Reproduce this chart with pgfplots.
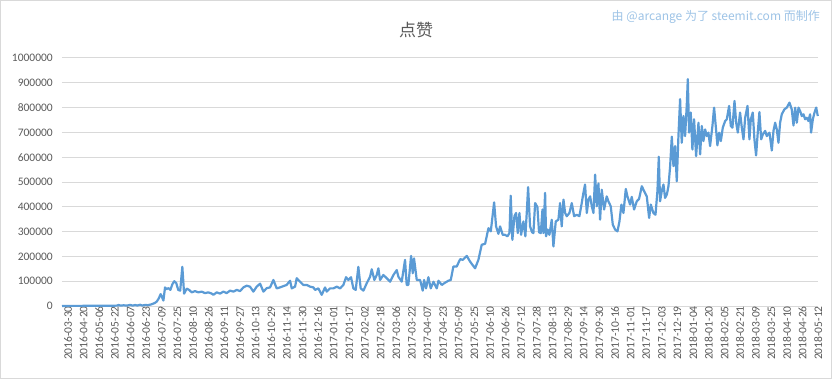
\documentclass[border=0pt]{standalone}
\usepackage{pgfplots}
\pgfplotsset{compat=1.18}
\usepackage{fontspec}
\setmainfont{Carlito}
\newfontfamily\cjk{Noto Sans CJK SC}
\definecolor{lineblue}{HTML}{5B9BD5}
\definecolor{txtgray}{HTML}{595959}
\definecolor{gridgray}{HTML}{D9D9D9}
\definecolor{notecol}{HTML}{9DC3E6}
\begin{document}
\begin{tikzpicture}[x=1bp,y=1bp]
\useasboundingbox (-62,-73) rectangle (770,306);
\draw[draw=gridgray, line width=1bp] (-61.5,-72.5) rectangle (769.5,305.5);
\begin{axis}[
  at={(0,0)}, anchor=south west,
  scale only axis, width=756bp, height=248bp,
  xmin=0, xmax=774, ymin=0, ymax=1000000,
  axis x line*=bottom, axis y line*=left,
  x axis line style={-, draw=gridgray, line width=1bp},
  y axis line style={draw=none},
  major tick length=0pt,
  ymajorgrids, grid style={draw=gridgray, line width=1bp},
  ytick={0,100000,200000,300000,400000,500000,600000,700000,800000,900000,1000000},
  scaled y ticks=false,
  /pgf/number format/.cd, fixed, set thousands separator={}, assume math mode=true,
  /pgfplots/.cd,
  yticklabel style={font=\fontsize{11.5bp}{13bp}\selectfont, text=txtgray, anchor=east, inner sep=0pt, xshift=-9bp},
  xtick={0,16,...,768},
  xticklabels={2016-03-30,2016-04-20,2016-05-06,2016-05-22,2016-06-07,2016-06-23,2016-07-09,2016-07-25,2016-08-10,2016-08-26,2016-09-11,2016-09-27,2016-10-13,2016-10-29,2016-11-14,2016-11-30,2016-12-16,2017-01-01,2017-01-17,2017-02-02,2017-02-18,2017-03-06,2017-03-22,2017-04-07,2017-04-23,2017-05-09,2017-05-25,2017-06-10,2017-06-26,2017-07-12,2017-07-28,2017-08-13,2017-08-29,2017-09-14,2017-09-30,2017-10-16,2017-11-01,2017-11-17,2017-12-03,2017-12-19,2018-01-04,2018-01-20,2018-02-05,2018-02-21,2018-03-09,2018-03-25,2018-04-10,2018-04-26,2018-05-12},
  xticklabel style={font=\fontsize{11.5bp}{13bp}\selectfont, text=txtgray, rotate=90, anchor=east, inner sep=0pt, yshift=-6bp},
  clip=false,
]
\addplot[lineblue, line width=2.2bp, line join=round] coordinates {
(0,300)(10,500)(20,600)(30,800)(40,1000)(50,1200)(56,1500)(58,4000)(60,1500)(63,3000)(66,1500)(70,4500)(72,1500)(75,4000)(77,2000)(80,5000)(82,2000)(85,4000)(88,3500)(91,6000)(93,9000)(95,12000)(97,18000)(99,30000)(101,48000)(102,40000)(103.8,22000)(105.5,75000)(107,68000)(109,72000)(111,65000)(113,88000)(115,100000)(117,92000)(119,65000)(121,62000)(123.2,158000)(125,50000)
(127.7,70000)(130.1,65000)(132.8,55000)(136.2,60000)(139.6,55000)(143,58000)(146.4,52000)(149.9,55000)(153.3,50000)(155,45000)(158.4,55000)(161.8,50000)(165.2,58000)(168.6,52000)(172,62000)(175.5,58000)(178.9,65000)(182.3,60000)(185.7,75000)(189.1,82000)(192.5,78000)(195.9,58000)(199.3,78000)(202.8,90000)(206.2,58000)(209.6,72000)(213,75000)(216.4,105000)(219.8,71000)(223.2,75000)(226.6,80000)(230,85000)(233.5,102000)(235.2,71000)(238.6,78000)(240.3,112000)(243.7,98000)(247.1,85000)(250.5,85000)(254,78000)(257.4,75000)(259.1,65000)(262.5,71000)(265.9,45000)(269.3,75000)(271,58000)(274.4,71000)(277.8,71000)(281.3,78000)(284.7,71000)(288.1,85000)(290.8,116000)(293.2,105000)(295.9,116000)(298.3,71000)(300.7,65000)(303.4,158000)(305.8,71000)(308.6,62000)(312,92000)(315.4,118000)(317.1,148000)(319.8,105000)(322.2,125000)(323.9,152000)(325.6,105000)(329,125000)(332.5,112000)(335.9,98000)(339.3,125000)(342.7,145000)(344.4,118000)(347.8,98000)(351.2,186000)(352.9,85000)(354.6,85000)(357.4,202000)(359.1,132000)(360.4,192000)(363.2,105000)(366.6,105000)(369.3,62000)
(370.7,105000)(372.7,71000)(375.1,116000)(377.5,71000)(380.3,98000)(383.7,71000)(385.4,102000)(388.8,85000)(392.2,94000)(395.6,102000)(398,105000)(400.7,159000)(404.1,159000)(407.6,189000)(410.3,186000)(414.4,202000)(417.8,179000)(422.9,152000)(426.3,186000)(429.7,247000)(433.2,251000)(436.6,314000)(439,301000)(442.4,418000)(444.4,321000)(446.8,291000)(448.5,321000)(451.2,287000)(453.6,287000)(456,281000)(458.1,294000)(459.4,445000)(461.1,267000)(463.2,362000)(464.9,375000)(466.6,294000)(468.3,375000)(470,287000)(472.4,341000)(474.4,281000)(475.8,375000)(477.2,479000)(479.2,321000)(481.3,297000)(482.6,294000)(484.4,415000)(486.7,399000)(488.4,297000)(490.2,294000)(491.9,389000)(492.9,294000)(494.6,456000)(495.6,281000)(497.3,308000)(499,287000)(501.4,348000)(503.1,240000)(505.5,341000)(508.2,348000)(509.9,415000)(511.6,321000)(513.4,429000)(515.1,375000)(516.8,362000)(519.5,375000)(521.9,415000)(524.3,362000)(527,368000)(529.7,362000)(532.1,415000)(533.8,456000)(535.5,490000)(537.3,375000)(539,429000)(540.7,442000)(542.4,402000)(544.1,375000)(545.8,530000)(547.5,402000)(549.2,494000)(550.9,348000)(552.6,469000)(555,389000)(557.7,442000)(559.4,422000)(561.8,402000)(563.9,328000)(566.3,308000)(568.7,301000)(570.7,341000)(572.7,409000)(574.8,375000)(577.2,472000)(578.9,442000)(581.6,409000)(583.3,440000)(585.7,389000)(588.4,422000)(590.8,432000)(593.6,483000)(596,463000)(598.7,442000)(601.1,355000)(602.8,409000)(605.5,375000)(607.6,368000)(609.6,463000)(611,602000)(612.3,422000)(614,463000)(615.8,490000)(617.4,436000)(619.2,449000)(620.9,483000)(622.6,564000)(624.3,683000)(626,564000)(627.7,645000)(629.4,503000)(631.1,685000)(632.8,834000)(634.5,658000)(636.2,766000)(637.9,685000)(639.6,807000)(640.7,915000)(642,699000)(643.7,780000)(645.4,631000)(647.1,753000)(649.2,604000)(651.6,739000)(653.3,611000)(655,726000)(656.7,665000)(658.4,712000)(660.1,685000)(661.8,699000)(663.5,645000)(665.9,726000)(667.6,800000)(669.3,726000)(671,648000)(672.8,699000)(674.5,665000)(676.5,719000)(678.9,746000)(680.6,753000)(683,807000)(684.7,726000)(686.4,719000)(688.5,827000)(690.2,739000)(691.9,699000)(694.2,780000)(696,719000)(697.7,672000)(699.4,759000)(701.8,807000)(703.8,672000)(705.2,753000)(707.2,780000)(708.9,672000)(710.6,607000)(712.3,699000)(714,782000)(715.8,672000)(717.5,692000)(719.9,706000)(721.6,685000)(724.3,699000)(726.7,627000)(728.4,706000)(730.1,739000)(731.8,712000)(733.5,658000)(735.2,739000)(736.9,773000)(739.6,793000)(742,800000)(744.8,820000)(747.1,793000)(748.9,728000)(750.6,800000)(752.3,739000)(754,800000)(755.7,786000)(757.4,766000)(759.1,773000)(760.8,753000)(762.5,759000)(764.2,746000)(765.9,773000)(766.9,699000)(768.7,753000)(770.4,780000)(772.1,800000)(773.8,766000)
};
\end{axis}
\node[font=\cjk\fontsize{17bp}{20bp}\selectfont, text=txtgray] at (354,276) {点赞};
\node[font=\cjk\fontsize{12bp}{14bp}\selectfont, text=notecol, anchor=east, inner sep=0pt] at (758,289) {由 @arcange 为了 steemit.com 而制作};
\end{tikzpicture}
\end{document}
